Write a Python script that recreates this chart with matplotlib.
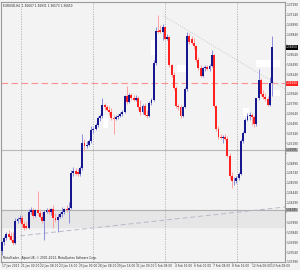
import matplotlib
matplotlib.use("Agg")
import matplotlib.pyplot as plt
from matplotlib import font_manager
from matplotlib.patches import Rectangle

# H4 candles (prices)
opens = [1.33550, 1.33690, 1.33760, 1.33810, 1.33790, 1.33725, 1.33675, 1.34010, 1.34040, 1.34060,
         1.33960, 1.33940, 1.33910, 1.34150, 1.34170, 1.34090, 1.34170, 1.34125, 1.34075, 1.34010,
         1.34150, 1.34185, 1.34140, 1.34190, 1.34050, 1.34030, 1.34075, 1.34110, 1.34140, 1.34190,
         1.34170, 1.34210, 1.34740, 1.34770, 1.34760, 1.34720, 1.34810, 1.35190, 1.35150, 1.35170,
         1.35225, 1.35390, 1.35410, 1.35460, 1.35570, 1.35600, 1.35775, 1.35740, 1.35700, 1.35670,
         1.35580, 1.35560, 1.35590, 1.35610, 1.35630, 1.35670, 1.35900, 1.35820, 1.35925, 1.35870,
         1.35850, 1.35880, 1.35740, 1.35660, 1.35760, 1.35625, 1.35600, 1.35800, 1.35850, 1.36410,
         1.36900, 1.36910, 1.36875, 1.36960, 1.36775, 1.36800, 1.36375, 1.36225, 1.36025, 1.35760,
         1.35740, 1.35600, 1.35740, 1.36010, 1.36825, 1.36775, 1.36710, 1.36660, 1.36450, 1.36325,
         1.36210, 1.36325, 1.36350, 1.36320, 1.36360, 1.36525, 1.35750, 1.35400, 1.35290, 1.35275,
         1.35290, 1.35260, 1.35000, 1.34700, 1.34610, 1.34625, 1.34660, 1.34725, 1.35225, 1.35350,
         1.35550, 1.35600, 1.35625, 1.35590, 1.35475, 1.35875, 1.36150, 1.35940, 1.35890, 1.35860,
         1.35775, 1.36100]
highs = [1.33710, 1.33790, 1.33850, 1.33875, 1.33850, 1.33850, 1.34050, 1.34075, 1.34100, 1.34100,
         1.34010, 1.34000, 1.34200, 1.34225, 1.34210, 1.34200, 1.34460, 1.34200, 1.34150, 1.34175,
         1.34210, 1.34210, 1.34210, 1.34250, 1.34125, 1.34110, 1.34150, 1.34225, 1.34210, 1.34250,
         1.34300, 1.34790, 1.34825, 1.34810, 1.34800, 1.34850, 1.35325, 1.35250, 1.35225, 1.35250,
         1.35450, 1.35440, 1.35500, 1.35600, 1.35640, 1.35875, 1.35800, 1.35775, 1.35750, 1.35725,
         1.35625, 1.35625, 1.35640, 1.35660, 1.35700, 1.35925, 1.36060, 1.35950, 1.35960, 1.35925,
         1.35925, 1.35900, 1.35850, 1.35790, 1.35800, 1.35700, 1.35825, 1.35875, 1.36460, 1.36950,
         1.37140, 1.36990, 1.37000, 1.36975, 1.36850, 1.36825, 1.36400, 1.36275, 1.36060, 1.35790,
         1.35775, 1.35760, 1.36040, 1.36875, 1.36860, 1.36810, 1.36790, 1.36675, 1.36500, 1.36375,
         1.36350, 1.36370, 1.36375, 1.36400, 1.36600, 1.36550, 1.35775, 1.35450, 1.35325, 1.35310,
         1.35325, 1.35300, 1.35040, 1.34750, 1.34675, 1.34700, 1.34750, 1.35250, 1.35375, 1.35575,
         1.35650, 1.35660, 1.35650, 1.35625, 1.35875, 1.36310, 1.36175, 1.36000, 1.35950, 1.35900,
         1.36200, 1.36825]
lows = [1.33500, 1.33650, 1.33725, 1.33740, 1.33700, 1.33640, 1.33660, 1.33975, 1.34000, 1.33925,
        1.33875, 1.33890, 1.33890, 1.34110, 1.34050, 1.34070, 1.34100, 1.34050, 1.33975, 1.33725,
        1.34125, 1.34110, 1.34100, 1.33910, 1.34000, 1.33850, 1.34050, 1.34075, 1.34110, 1.34150,
        1.33975, 1.34190, 1.34700, 1.34710, 1.34700, 1.34690, 1.34790, 1.35075, 1.35125, 1.35150,
        1.35200, 1.35350, 1.35390, 1.35440, 1.35525, 1.35575, 1.35700, 1.35675, 1.35625, 1.35550,
        1.35325, 1.35540, 1.35560, 1.35590, 1.35610, 1.35650, 1.35790, 1.35800, 1.35850, 1.35825,
        1.35825, 1.35700, 1.35625, 1.35640, 1.35600, 1.35575, 1.35590, 1.35775, 1.35825, 1.36375,
        1.36860, 1.36860, 1.36760, 1.36750, 1.36750, 1.36350, 1.36190, 1.36000, 1.35725, 1.35700,
        1.35575, 1.35590, 1.35725, 1.35990, 1.36700, 1.36690, 1.36625, 1.36425, 1.36300, 1.36190,
        1.36190, 1.36290, 1.36300, 1.36280, 1.36350, 1.35725, 1.35375, 1.35250, 1.35250, 1.35200,
        1.35240, 1.34975, 1.34650, 1.34510, 1.34560, 1.34590, 1.34640, 1.34710, 1.35200, 1.35340,
        1.35525, 1.35550, 1.35460, 1.35440, 1.35450, 1.35850, 1.35900, 1.35860, 1.35825, 1.35750,
        1.35750, 1.35900]
closes = [1.33690, 1.33760, 1.33810, 1.33770, 1.33725, 1.33675, 1.34010, 1.34040, 1.34060, 1.33960,
          1.33900, 1.33910, 1.34150, 1.34170, 1.34090, 1.34170, 1.34125, 1.34075, 1.34010, 1.34150,
          1.34185, 1.34140, 1.34190, 1.34050, 1.34030, 1.34075, 1.34110, 1.34140, 1.34190, 1.34170,
          1.34210, 1.34740, 1.34770, 1.34730, 1.34720, 1.34810, 1.35190, 1.35150, 1.35170, 1.35225,
          1.35390, 1.35410, 1.35460, 1.35570, 1.35600, 1.35775, 1.35740, 1.35700, 1.35670, 1.35580,
          1.35560, 1.35590, 1.35610, 1.35630, 1.35670, 1.35900, 1.35820, 1.35925, 1.35870, 1.35850,
          1.35880, 1.35740, 1.35660, 1.35760, 1.35625, 1.35600, 1.35800, 1.35850, 1.36410, 1.36900,
          1.36880, 1.36875, 1.36960, 1.36775, 1.36800, 1.36375, 1.36225, 1.36025, 1.35760, 1.35740,
          1.35600, 1.35740, 1.36010, 1.36825, 1.36725, 1.36710, 1.36660, 1.36450, 1.36325, 1.36210,
          1.36325, 1.36350, 1.36320, 1.36360, 1.36525, 1.35750, 1.35400, 1.35290, 1.35275, 1.35290,
          1.35260, 1.35000, 1.34700, 1.34610, 1.34625, 1.34660, 1.34725, 1.35225, 1.35350, 1.35550,
          1.35600, 1.35625, 1.35590, 1.35475, 1.35875, 1.36150, 1.35940, 1.35890, 1.35860, 1.35775,
          1.36100, 1.36650]

time_labels = ["17 Jan 2013", "21 Jan 00:00", "22 Jan 08:00", "23 Jan 16:00", "25 Jan 00:00",
               "28 Jan 08:00", "29 Jan 16:00", "31 Jan 00:00", "1 Feb 08:00", "4 Feb 16:00",
               "6 Feb 00:00", "7 Feb 08:00", "8 Feb 16:00", "12 Feb 00:00", "13 Feb 08:00"]

price_ticks = [1.37290 - 0.0015 * k for k in range(27)]

# chart objects
red_level = 1.36100
grey_level = 1.35095
band_top, band_bottom = 1.34185, 1.33925
trend_up = [(8.2, 1.33785), (127.4, 1.34225)]
trend_down = [(72.3, 1.37125), (127.4, 1.36001)]
white_boxes = [(67.0, 69.5, 1.36750, 1.36525), (45.5, 47.5, 1.35625, 1.35425),
               (78.5, 82.5, 1.36375, 1.36275), (114.0, 124.5, 1.36450, 1.36350),
               (121.5, 124.5, 1.36000, 1.35900), (108.0, 110.5, 1.35725, 1.35600)]

# a narrow face keeps the tiny MT4-style scale labels inside the picture
installed = {f.name for f in font_manager.fontManager.ttflist}
if "Liberation Sans Narrow" in installed:
    small = dict(family=["Liberation Sans Narrow", "DejaVu Sans"], size=2.6)
else:
    small = dict(family=["DejaVu Sans"], size=2.1)

YMIN, YMAX = 1.33400, 1.37335
bg = "#f3f3f3"
fig = plt.figure(figsize=(3.0, 2.7), dpi=100, facecolor=bg)
ax = fig.add_axes([0.004, 0.03, 0.946, 0.963], facecolor=bg)

n = len(opens)
x = list(range(n))

ax.axhspan(band_bottom, band_top, color="#e6e6e6", zorder=0)
ax.axhline(band_top, color="#b0b0b0", lw=0.8, zorder=1)
ax.axhline(grey_level, color="#b8b8b8", lw=0.8, zorder=1)
ax.axhline(red_level, color="#ff9090", lw=0.8, ls=(0, (6, 3)), zorder=1)
for gx in [8.5, 40.7, 72.9, 105.1]:
    ax.axvline(gx, color="#b0b0b0", lw=0.6, ls=(0, (1.5, 1.5)), zorder=1)

for x0, x1, top, bot in white_boxes:
    ax.add_patch(Rectangle((x0, bot), x1 - x0, top - bot, color="white", lw=0, zorder=1.5))

ax.plot([p[0] for p in trend_up], [p[1] for p in trend_up], color="#b8b8c8", lw=0.7,
        ls=(0, (5, 3)), zorder=1.6)
ax.plot([p[0] for p in trend_down], [p[1] for p in trend_down], color="#c8c8c8", lw=0.7,
        ls=(0, (1, 1.5)), zorder=1.6)

bull = [c >= o for o, c in zip(opens, closes)]
wick_cols = ["#8c8cdc" if b else "#ffa0a0" for b in bull]
body_cols = ["#16168e" if b else "#ff2020" for b in bull]
ax.vlines(x, lows, highs, colors=wick_cols, lw=0.7, zorder=2)
bottoms = [min(o, c) for o, c in zip(opens, closes)]
heights = [max(abs(c - o), 0.00004) for o, c in zip(opens, closes)]
ax.bar(x, heights, bottom=bottoms, width=0.85, color=body_cols, lw=0, zorder=3)

ax.set_xlim(-0.3, 126.8)
ax.set_ylim(YMIN, YMAX)

# the level boxes sit on top of the scale; skip plain labels they would cover
levels = [closes[-1], red_level, grey_level, band_top]
ytick_text = []
for p in price_ticks:
    if min(abs(p - lv) for lv in levels) < 0.0007:
        ytick_text.append("")
    else:
        ytick_text.append(f"{p:.5f}")

ax.yaxis.tick_right()
ax.set_yticks(price_ticks)
ax.set_yticklabels(ytick_text, fontdict=small)
ax.tick_params(axis="y", length=1.0, width=0.5, pad=0.5, colors="#555555")
ax.set_xticks([k * 8.6 for k in range(len(time_labels))])
ax.set_xticklabels(time_labels, fontdict=small, ha="left")
ax.tick_params(axis="x", length=1.0, width=0.5, pad=0.5, colors="#555555")
for lab in ax.get_xticklabels() + ax.get_yticklabels():
    lab.set_color("#333333")

for s in ax.spines.values():
    s.set_color("#9a9a9a")
    s.set_linewidth(0.8)


# price labels for the levels
def level_box(price, fc, tc):
    ax.text(1.003, (price - YMIN) / (YMAX - YMIN), f"{price:.5f}",
            transform=ax.transAxes, fontdict=small, color=tc, va="center", ha="left",
            bbox=dict(boxstyle="square,pad=0.12", fc=fc, ec="none"), zorder=5, clip_on=False)


level_box(closes[-1], "#000000", "white")
level_box(red_level, "#ff2020", "white")
level_box(grey_level, "#b0b0b0", "#222222")
level_box(band_top, "#b0b0b0", "#222222")

ax.text(0.006, 0.99, "EURUSD,H4  1.36607 1.36931 1.36573 1.36650", transform=ax.transAxes,
        fontdict=small, color="#222222", va="top", ha="left")
ax.text(0.006, 0.006, "MetaTrader - Alpari UK, \u00a9 2001-2013, MetaQuotes Software Corp.",
        transform=ax.transAxes, fontdict=small, color="#222222", va="bottom", ha="left")

fig.savefig("out.png", dpi=100, facecolor=bg)
